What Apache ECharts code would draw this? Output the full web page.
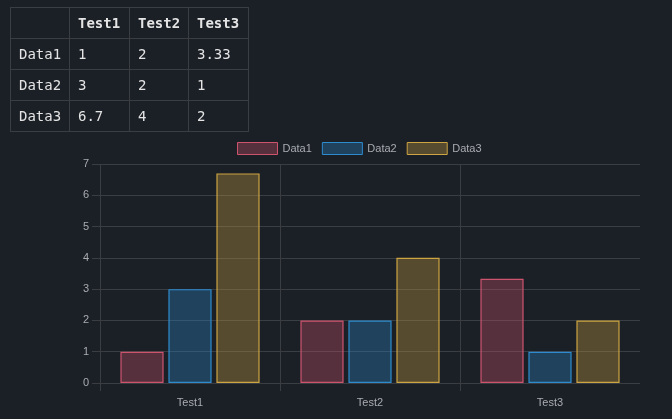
<!DOCTYPE html>
<html>
<head>
<meta charset="utf-8">
<script src="https://cdn.jsdelivr.net/npm/echarts@6/dist/echarts.min.js"></script>
<style>
  html, body { margin: 0; padding: 0; background: #1b1f26; }
  #chart { position: absolute; left: 0; top: 0; width: 672px; height: 419px; }
  #tbl { position: absolute; left: 10px; top: 7px; border-collapse: collapse; table-layout: fixed;
         font-family: "DejaVu Sans Mono", monospace; font-size: 14px; color: #e4e4e4; z-index: 2; }
  #tbl td, #tbl th { border: 1px solid #3a3d42; height: 31px; padding: 0 0 0 8px; text-align: left;
         vertical-align: middle; box-sizing: border-box; white-space: nowrap; }
  #tbl th { font-weight: bold; }
</style>
</head>
<body>
<div id="chart"></div>
<table id="tbl"></table>
<script>
const categories = ['Test1', 'Test2', 'Test3'];
const seriesNames = ['Data1', 'Data2', 'Data3'];
const data1 = [1, 2, 3.33];
const data2 = [3, 2, 1];
const data3 = [6.7, 4, 2];
const yTicks = { min: 0, max: 7, interval: 1 };

const seriesValues = [data1, data2, data3];
const borderColors = ['#ce546e', '#2e8cce', '#cda542'];
const fillColors = ['rgba(206,84,110,0.33)', 'rgba(46,140,206,0.33)', 'rgba(205,165,66,0.33)'];
const gridColor = '#3a3d42';
const textColor = '#a9acb0';

// Build the HTML table from the same arrays
const tbl = document.getElementById('tbl');
const colWidths = [59, 60, 59, 60];
let html = '<colgroup>' + colWidths.map(w => '<col style="width:' + w + 'px">').join('') + '</colgroup>';
html += '<tr><th></th>' + categories.map(c => '<th>' + c + '</th>').join('') + '</tr>';
seriesNames.forEach((n, i) => {
  html += '<tr><td>' + n + '</td>' + seriesValues[i].map(v => '<td>' + v + '</td>').join('') + '</tr>';
});
tbl.innerHTML = html;

const chart = echarts.init(document.getElementById('chart'), null, { renderer: 'canvas' });
const splitColors = [gridColor, gridColor, gridColor, 'rgba(0,0,0,0)'];
chart.setOption({
  backgroundColor: 'transparent',
  animation: false,
  textStyle: { fontFamily: 'Liberation Sans, Arial, sans-serif' },
  legend: {
    left: 232, top: 137,
    itemWidth: 40, itemHeight: 12, itemGap: 10,
    icon: 'rect',
    textStyle: { color: textColor, fontSize: 11 },
    data: seriesNames.map((n, i) => ({
      name: n,
      itemStyle: { color: fillColors[i], borderColor: borderColors[i], borderWidth: 1 }
    }))
  },
  grid: [
    { left: 100, right: 32, top: 164, bottom: 36 },
    { left: 100, right: 32, top: 383, height: 8 }
  ],
  xAxis: [
    {
      type: 'category', data: categories, gridIndex: 0,
      axisLine: { show: false }, axisTick: { show: false },
      axisLabel: { color: textColor, fontSize: 11, margin: 14 },
      splitLine: { show: true, lineStyle: { color: splitColors, width: 1 } }
    },
    {
      type: 'category', data: categories, gridIndex: 1,
      axisLine: { show: false }, axisTick: { show: false }, axisLabel: { show: false },
      splitLine: { show: true, lineStyle: { color: splitColors, width: 1 } }
    }
  ],
  yAxis: [
    {
      type: 'value', gridIndex: 0, min: yTicks.min, max: yTicks.max, interval: yTicks.interval,
      axisLine: { show: false },
      axisTick: { show: true, length: 8, lineStyle: { color: gridColor } },
      axisLabel: { color: textColor, fontSize: 11, margin: 11 },
      splitLine: { show: true, lineStyle: { color: gridColor, width: 1 } }
    },
    { type: 'value', gridIndex: 1, min: 0, max: 1, show: false }
  ],
  series: seriesNames.map((n, i) => ({
    name: n, type: 'bar', xAxisIndex: 0, yAxisIndex: 0,
    data: seriesValues[i],
    barWidth: '24%', barGap: '11.11%',
    itemStyle: { color: fillColors[i], borderColor: borderColors[i], borderWidth: 1.2 },
    emphasis: { disabled: true }
  }))
});
</script>
</body>
</html>
